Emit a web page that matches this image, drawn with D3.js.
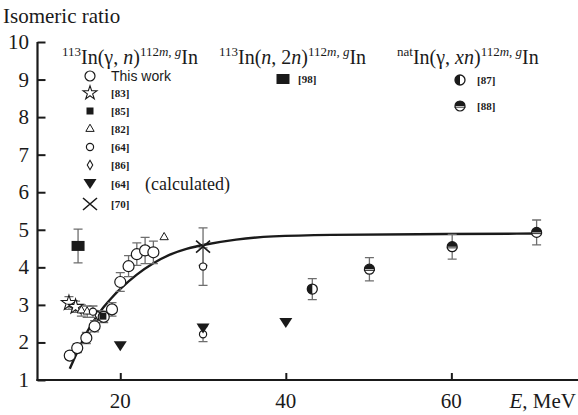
<!DOCTYPE html>
<html>
<head>
<meta charset="utf-8">
<script src="https://cdn.jsdelivr.net/npm/d3@7"></script>
<style>
  body { margin: 0; background: #fff; }
  svg { display: block; }
</style>
</head>
<body>
<div id="chart"></div>
<script>
// data
var thisWorkE = [13.9, 14.8, 15.9, 16.9, 18.0, 19.0, 20.0, 21.0, 22.0, 23.0, 24.0];
var thisWorkR = [1.65, 1.85, 2.12, 2.43, 2.68, 2.88, 3.61, 4.03, 4.35, 4.45, 4.40];
var thisWorkErr = [0.1, 0.12, 0.15, 0.15, 0.15, 0.18, 0.25, 0.28, 0.3, 0.35, 0.3];

var ref83E = [13.8, 14.6], ref83R = [3.05, 2.95], ref83Err = [0.17, 0.15];
var ref82E = [15.3, 16.0, 25.3], ref82R = [2.85, 2.82, 4.8], ref82Err = [0.15, 0.15, 0];
var ref64E = [16.7, 30, 30], ref64R = [2.82, 4.02, 2.22], ref64Err = [0.15, 0.5, 0.2];
var ref86E = [17.3], ref86R = [2.72], ref86Err = [0.12];
var ref85E = [17.9], ref85R = [2.7], ref85Err = [0.1];
var calc64E = [20, 30, 40], calc64R = [1.9, 2.37, 2.52];
var ref70E = [30], ref70R = [4.55], ref70Err = [0.5];
var ref98E = [14.9], ref98R = [4.57], ref98Err = [0.45];
var ref87E = [43.2], ref87R = [3.42], ref87Err = [0.28];
var ref88E = [50.1, 60.1, 70.3], ref88R = [3.95, 4.55, 4.93], ref88Err = [0.31, 0.33, 0.33];

// fitted curve, points
var fitE = [13.9, 15, 16, 17, 18, 19, 20, 22, 24, 26, 28, 30, 34, 38, 45, 55, 70.5];
var fitR = [1.3, 1.85, 2.3, 2.65, 2.95, 3.2, 3.43, 3.82, 4.12, 4.35, 4.5, 4.6, 4.75, 4.83, 4.87, 4.88, 4.9];

var yTicks = [1, 2, 3, 4, 5, 6, 7, 8, 9, 10];
var xTicks = [20, 40, 60];

var width = 578, height = 415;
var ink = "#1a1a1a", errCol = "#6e6e6e";
var serif = "'Liberation Serif', 'DejaVu Serif', serif";

var svg = d3.select("#chart").append("svg")
    .attr("width", width)
    .attr("height", height);

var x = d3.scaleLinear().domain([10, 75.3]).range([37.5, 578]);
var y = d3.scaleLinear().domain([1, 10]).range([380, 42]);

// axes (ticks pointing inward)
var xAxis = svg.append("g").attr("transform", "translate(0," + y(1) + ")")
    .call(d3.axisTop(x).tickValues(xTicks).tickSize(7).tickFormat(""));
var yAxis = svg.append("g").attr("transform", "translate(" + x(10) + ",0)")
    .call(d3.axisRight(y).tickValues(yTicks).tickSize(8).tickFormat(""));
[xAxis, yAxis].forEach(function(a) {
    a.select(".domain").attr("stroke", ink).attr("stroke-width", 2.2);
    a.selectAll(".tick line").attr("stroke", ink).attr("stroke-width", 2);
});
yAxis.select(".domain").attr("d", "M0," + y(10) + "V" + (y(1) + 1.1));
xAxis.select(".domain").attr("d", "M" + (x(10) - 1.1) + ",0H" + width);

svg.append("g").selectAll("text").data(yTicks).enter().append("text")
    .attr("x", 29).attr("y", function(d) { return y(d) + 7; })
    .attr("text-anchor", "end")
    .style("font-family", serif).style("font-size", "21px").attr("fill", ink)
    .text(function(d) { return d; });

svg.append("g").selectAll("text").data(xTicks).enter().append("text")
    .attr("x", function(d) { return x(d); }).attr("y", 408)
    .attr("text-anchor", "middle")
    .style("font-family", serif).style("font-size", "21px").attr("fill", ink)
    .text(function(d) { return d; });

svg.append("text").attr("x", 3).attr("y", 23)
    .style("font-family", serif).style("font-size", "21px").attr("fill", ink)
    .text("Isomeric ratio");

var eLab = svg.append("text").attr("x", 576).attr("y", 408).attr("text-anchor", "end")
    .style("font-family", serif).style("font-size", "21px").attr("fill", ink);
eLab.append("tspan").style("font-style", "italic").text("E");
eLab.append("tspan").text(", MeV");

// fitted curve
var line = d3.line()
    .x(function(d) { return x(d[0]); })
    .y(function(d) { return y(d[1]); })
    .curve(d3.curveBasis);
svg.append("path")
    .datum(d3.zip(fitE, fitR))
    .attr("d", line)
    .attr("fill", "none").attr("stroke", ink).attr("stroke-width", 2.4);

// marker painters
function star(g, s) {
    g.append("path").attr("d", d3.symbol().type(d3.symbolStar).size(s || 70)())
        .attr("fill", "#fff").attr("stroke", ink).attr("stroke-width", 1.1);
}
function openCircle(g, r) {
    g.append("circle").attr("r", r).attr("fill", "#fff").attr("stroke", ink).attr("stroke-width", 1.2);
}
function smallSquare(g) {
    g.append("rect").attr("x", -3.5).attr("y", -3.5).attr("width", 7).attr("height", 7).attr("fill", ink);
}
function openTriangle(g) {
    g.append("path").attr("d", d3.symbol().type(d3.symbolTriangle).size(30)())
        .attr("fill", "#fff").attr("stroke", ink).attr("stroke-width", 1);
}
function diamond(g) {
    g.append("path").attr("d", d3.symbol().type(d3.symbolDiamond).size(26)())
        .attr("fill", "#fff").attr("stroke", ink).attr("stroke-width", 1.1);
}
function triDown(g) {
    g.append("path").attr("d", "M-6.5,-5L6.5,-5L0,5Z").attr("fill", ink);
}
function cross(g) {
    g.append("path").attr("d", "M-7,-6L7,6M-7,6L7,-6").attr("stroke", ink).attr("stroke-width", 1.6);
}
function bigRect(g) {
    g.append("rect").attr("x", -6.5).attr("y", -5).attr("width", 13).attr("height", 10).attr("fill", ink);
}
function halfLeft(g) {
    g.append("circle").attr("r", 5).attr("fill", "#fff").attr("stroke", ink).attr("stroke-width", 1.3);
    g.append("path").attr("d", "M0,-5A5,5 0 0,0 0,5Z").attr("fill", ink);
}
function halfTop(g) {
    g.append("circle").attr("r", 5).attr("fill", "#fff").attr("stroke", ink).attr("stroke-width", 1.2);
    g.append("path").attr("d", "M-5,0A5,5 0 0,1 5,0Z").attr("fill", ink);
    g.append("path").attr("d", "M-5.5,1.2H5.5").attr("stroke", ink).attr("stroke-width", 0.9);
}

function errorBars(E, R, err) {
    var d = d3.zip(E, R, err).filter(function(p) { return p[2] > 0; });
    var g = svg.append("g").attr("stroke", errCol).attr("stroke-width", 1.3);
    g.selectAll("path").data(d).enter().append("path")
        .attr("fill", "none")
        .attr("d", function(p) {
            var cx = x(p[0]), t = y(p[1] + p[2]), b = y(p[1] - p[2]);
            return "M" + cx + "," + t + "V" + b +
                "M" + (cx - 4.5) + "," + t + "H" + (cx + 4.5) +
                "M" + (cx - 4.5) + "," + b + "H" + (cx + 4.5);
        });
}
function points(E, R, painter) {
    svg.append("g").selectAll("g").data(d3.zip(E, R)).enter().append("g")
        .attr("transform", function(p) { return "translate(" + x(p[0]) + "," + y(p[1]) + ")"; })
        .each(function() { painter(d3.select(this)); });
}

errorBars(ref98E, ref98R, ref98Err);
errorBars(ref83E, ref83R, ref83Err);
errorBars(ref82E, ref82R, ref82Err);
errorBars(ref64E, ref64R, ref64Err);
errorBars(ref86E, ref86R, ref86Err);
errorBars(ref70E, ref70R, ref70Err);
errorBars(ref87E, ref87R, ref87Err);
errorBars(ref88E, ref88R, ref88Err);
errorBars(thisWorkE, thisWorkR, thisWorkErr);

points(ref98E, ref98R, bigRect);
points(ref83E, ref83R, function(g) { star(g); });
points(ref82E, ref82R, openTriangle);
points(ref64E, ref64R, function(g) { openCircle(g, 3.6); });
points(ref86E, ref86R, diamond);
points(thisWorkE, thisWorkR, function(g) { openCircle(g, 5.5); });
points(ref85E, ref85R, smallSquare);
points(calc64E, calc64R, triDown);
points(ref70E, ref70R, cross);
points(ref87E, ref87R, halfLeft);
points(ref88E, ref88R, halfTop);

// reaction headings
function heading(xp, yp, pre, open, mid) {
    var t = svg.append("text").attr("x", xp).attr("y", yp)
        .style("font-family", serif).style("font-size", "20px").attr("fill", ink);
    t.append("tspan").attr("dy", -8).style("font-size", "13px").text(pre);
    t.append("tspan").attr("dy", 8).text(open);
    mid.forEach(function(m) {
        t.append("tspan").style("font-style", m[1] ? "italic" : "normal").text(m[0]);
    });
    t.append("tspan").attr("dy", -8).style("font-size", "13px").text("112");
    t.append("tspan").style("font-size", "13px").style("font-style", "italic").text("m");
    t.append("tspan").style("font-size", "13px").text(", ");
    t.append("tspan").style("font-size", "13px").style("font-style", "italic").text("g");
    t.append("tspan").attr("dy", 8).text("In");
    return t;
}
heading(62, 64, "113", "In(γ, ", [["n", true], [")", false]]);
heading(219, 64, "113", "In(", [["n", true], [", 2", false], ["n", true], [")", false]]);
heading(397, 64, "nat", "In(γ, ", [["xn", true], [")", false]]);

// legend
var legSerifBold = function(sel) {
    return sel.style("font-family", serif).style("font-size", "11px").style("font-weight", "bold").attr("fill", ink);
};
var legRows = [
    { y: 76, label: "This work", painter: function(g) { openCircle(g, 5); }, sans: true },
    { y: 93, label: "[83]", painter: function(g) { star(g, 60); } },
    { y: 111, label: "[85]", painter: smallSquare },
    { y: 129, label: "[82]", painter: openTriangle },
    { y: 147, label: "[64]", painter: function(g) { openCircle(g, 3.6); } },
    { y: 165, label: "[86]", painter: diamond },
    { y: 184, label: "[64]", painter: triDown, extra: "(calculated)" },
    { y: 204, label: "[70]", painter: cross }
];
legRows.forEach(function(r) {
    var g = svg.append("g").attr("transform", "translate(90," + r.y + ")");
    r.painter(g);
    var t = svg.append("text").attr("x", 111).attr("y", r.y + (r.sans ? 5 : 4));
    if (r.sans) {
        t.style("font-family", "'Liberation Sans', Arial, sans-serif").style("font-size", "14px").attr("fill", ink).text(r.label);
    } else {
        legSerifBold(t).text(r.label);
    }
    if (r.extra) {
        svg.append("text").attr("x", 145).attr("y", r.y + 6)
            .style("font-family", serif).style("font-size", "18px").attr("fill", ink).text(r.extra);
    }
});

var g98 = svg.append("g").attr("transform", "translate(283,79)"); bigRect(g98);
legSerifBold(svg.append("text").attr("x", 298).attr("y", 83)).text("[98]");
var g87 = svg.append("g").attr("transform", "translate(460,80)"); halfLeft(g87);
legSerifBold(svg.append("text").attr("x", 477).attr("y", 84)).text("[87]");
var g88 = svg.append("g").attr("transform", "translate(460,106)"); halfTop(g88);
legSerifBold(svg.append("text").attr("x", 477).attr("y", 110)).text("[88]");
</script>
</body>
</html>
